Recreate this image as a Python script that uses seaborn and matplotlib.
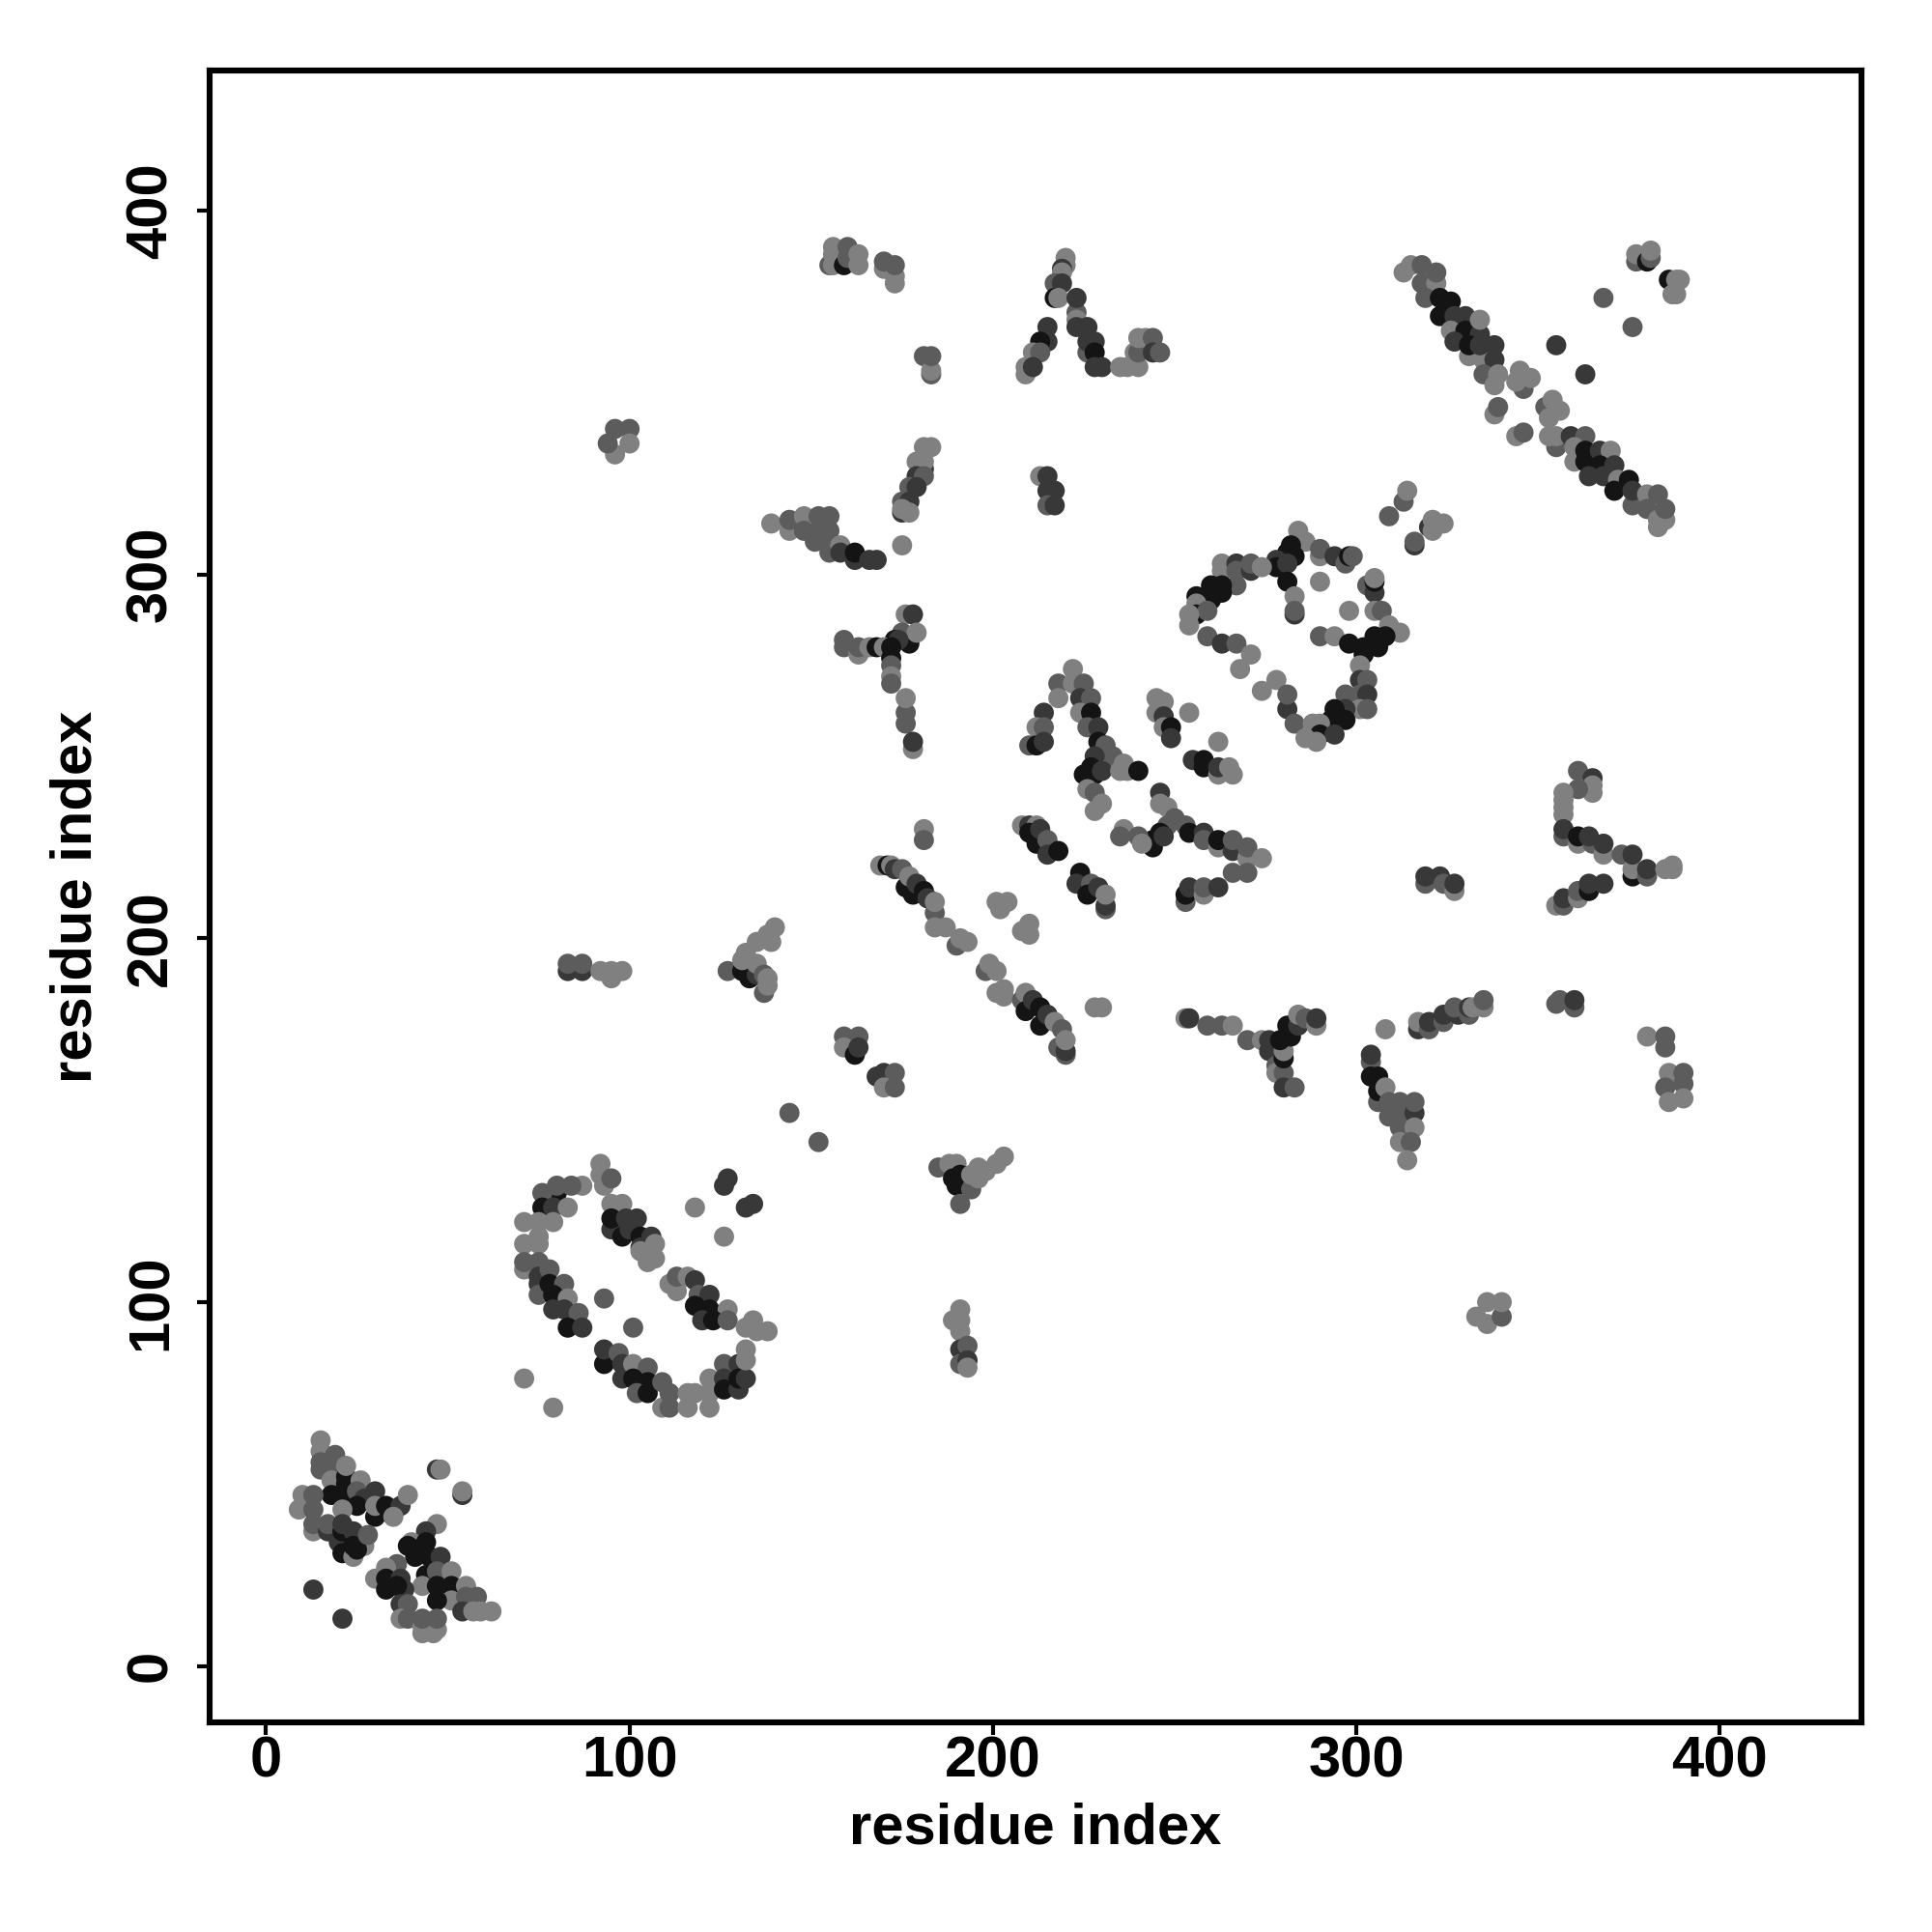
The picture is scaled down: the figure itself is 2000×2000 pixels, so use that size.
import matplotlib
matplotlib.use("Agg")
import matplotlib.pyplot as plt
import pandas as pd
import seaborn as sns

# (residue i, residue j, shade) k=black d=dark m=mid l=light
helix_n = [(15,62,'l'),(15,59,'l'),(15,54,'m'),(15,56,'m'),(19,58,'m'),(19,55,'m'),(18,51,'l'),(22,50,'k'),(22,52,'k'),(22,55,'l'),(26,51,'l'),
 (18,47,'k'),(22,47,'k'),(25,48,'m'),(27,46,'d'),(30,48,'d'),(25,44,'k'),(21,43,'l'),(30,41,'k'),(30,44,'l'),(33,44,'k'),(34,42,'k'),(37,44,'d'),(39,47,'l'),(35,41,'l'),
 (10,47,'l'),(9,43,'l'),(13,47,'m'),(13,43,'m'),(13,37,'l'),(13,39,'m'),(17,37,'d'),(17,39,'m'),(20,34,'d'),(21,31,'k'),(21,37,'k'),(21,39,'d'),(24,37,'d'),
 (24,30,'l'),(27,33,'l'),(24,33,'k'),(25,32,'k'),(28,36,'m'),
 (47,54,'d'),(48,54,'l'),(54,47,'d'),(54,48,'l'),(13,21,'d'),(21,13,'d')]
helix_c = [(47,39,'l'),(44,37,'d'),(40,34,'l'),(39,33,'k'),(44,34,'k'),(41,32,'k'),(41,30,'k'),(45,30,'k'),(48,30,'d'),(36,28,'m'),(33,27,'l'),(30,24,'l'),(33,24,'k'),
 (37,24,'d'),(44,25,'k'),(47,26,'m'),(51,26,'l'),(43,22,'l'),(33,21,'k'),(38,21,'d'),(36,22,'k'),(47,22,'k'),(51,22,'k'),(55,22,'l'),(51,18,'l'),(47,18,'k'),
 (55,19,'m'),(58,19,'m'),(37,17,'d'),(39,17,'m'),(54,15,'d'),(57,15,'l'),(59,15,'l'),(62,15,'l'),(37,13,'l'),(39,13,'m'),(43,9,'l'),(46,9,'l'),(47,10,'l'),(43,11,'l'),(43,13,'m'),(47,13,'m')]
ring_a = [(92,138,'l'),(92,135,'l'),(93,132,'l'),(95,134,'m'),(87,132,'l'),(80,130,'k'),(80,132,'m'),(84,132,'m'),(76,130,'m'),(76,126,'k'),(79,126,'d'),(83,126,'l'),
 (71,122,'l'),(75,122,'l'),(79,122,'l'),(71,116,'l'),(75,116,'l'),(75,118,'l'),(71,109,'l'),(71,111,'m'),(75,111,'m'),(75,107,'d'),(75,105,'d'),(75,102,'m'),(78,109,'m'),
 (78,105,'k'),(82,105,'m'),(79,102,'k'),(83,101,'l'),(79,98,'d'),(82,98,'d'),(86,97,'m'),(83,93,'k'),(87,93,'d'),
 (93,101,'m'),(101,93,'m'),(71,79,'l'),(79,71,'l')]
ring_b = [(95,127,'l'),(98,127,'l'),(95,120,'d'),(95,123,'k'),(99,123,'d'),(102,123,'d'),(98,118,'k'),(100,120,'d'),(103,118,'k'),(103,115,'d'),(106,118,'d'),(103,114,'l'),(105,111,'l'),(107,112,'l'),(107,116,'l'),
 (111,105,'l'),(113,103,'l'),(113,107,'m'),(116,107,'l'),(118,106,'d'),(119,102,'m'),(122,102,'d'),(118,99,'k'),(122,98,'k'),(127,98,'l'),(120,95,'d'),(123,95,'k'),(127,95,'m'),
 (134,95,'l'),(132,93,'l'),(135,92,'l'),(138,92,'l')]
ring_c = [(93,83,'k'),(93,87,'d'),(97,86,'m'),(98,83,'d'),(98,79,'d'),(101,83,'l'),(105,82,'m'),(101,79,'k'),(105,78,'k'),(102,75,'m'),(105,75,'k'),(109,78,'m'),(109,71,'l'),(111,71,'m'),(111,75,'m'),
 (116,71,'l'),(116,75,'l'),(118,75,'l'),(122,71,'l'),(122,75,'l'),(122,79,'l'),(126,83,'m'),(126,79,'d'),(126,76,'k'),(130,76,'d'),(130,83,'d'),(130,79,'k'),(132,79,'d'),(132,84,'l'),(132,87,'l'),
 (126,132,'d'),(127,134,'d'),(132,126,'d'),(134,127,'d'),(118,126,'l'),(126,118,'l')]
strand_mid = [(83,191,'d'),(87,191,'d'),(83,193,'m'),(87,193,'m'),(92,191,'l'),(95,189,'l'),(95,191,'l'),(98,191,'l'),
 (127,191,'m'),(131,191,'k'),(133,189,'k'),(135,190,'d'),(131,194,'l'),(132,196,'l'),(135,193,'l'),(135,199,'l'),(139,199,'l'),(138,201,'l'),(140,203,'l'),(137,185,'m'),(137,190,'m'),(138,187,'l'),(138,189,'l'),
 (159,173,'m'),(163,173,'m'),(159,170,'l'),(162,168,'k'),(163,170,'d'),(168,162,'d'),(170,163,'d'),(173,163,'m'),(170,159,'l'),(173,159,'m'),(144,152,'m'),(152,144,'m'),
 (185,137,'m'),(188,138,'l'),(190,138,'l'),(189,134,'k'),(190,132,'k'),(191,135,'k'),(194,131,'m'),(194,135,'l'),(196,134,'l'),(196,137,'l'),(198,136,'l'),(201,138,'l'),(203,140,'l'),(191,127,'m'),
 (191,98,'l'),(189,95,'l'),(191,95,'l'),(191,92,'l'),(191,87,'d'),(193,88,'m'),(191,83,'m'),(193,84,'d'),(193,82,'l')]
diag_long = [(169,220,'l'),(171,220,'k'),(172,220,'l'),(173,219,'d'),(175,219,'m'),(176,214,'k'),(177,217,'l'),(178,212,'k'),(179,215,'d'),(181,213,'k'),(182,211,'d'),(184,207,'m'),(184,210,'l'),
 (184,203,'l'),(187,203,'l'),(190,198,'m'),(191,200,'l'),(193,199,'l'),(198,191,'m'),(199,193,'l'),(201,191,'l'),(201,185,'l'),(203,186,'l'),(203,184,'l'),
 (208,183,'m'),(209,185,'l'),(209,180,'k'),(211,183,'d'),(213,181,'k'),(213,176,'k'),(215,179,'d'),(217,177,'l'),(219,175,'m'),(218,170,'m'),(220,168,'m'),(220,169,'d'),(220,172,'l'),
 (201,210,'l'),(204,210,'l'),(202,208,'l'),(208,202,'l'),(210,204,'l'),(210,201,'l'),(228,181,'l'),(230,181,'l'),(181,230,'l'),(181,227,'m')]
arm_lambda = [(222,274,'l'),(218,270,'m'),(222,270,'l'),(225,270,'m'),(218,266,'l'),(224,266,'d'),(227,266,'m'),(224,262,'l'),(227,262,'k'),(214,262,'d'),(212,258,'l'),(214,258,'m'),(226,258,'m'),(229,258,'d'),
 (210,253,'m'),(212,253,'k'),(214,254,'d'),(229,254,'k'),(231,253,'m'),(233,250,'m'),(228,250,'d'),(236,248,'l'),(227,247,'k'),(225,245,'k'),(228,245,'k'),(230,246,'d'),(235,246,'l'),(237,246,'l'),(240,246,'k'),
 (226,241,'l'),(228,240,'m'),(228,235,'l'),(230,237,'l'),
 (245,266,'l'),(247,265,'l'),(245,262,'l'),(254,262,'l'),(247,261,'d'),(247,258,'l'),(249,258,'k'),(249,255,'d'),(262,254,'l'),(255,249,'d'),(258,247,'k'),(258,249,'k'),(262,245,'l'),(262,247,'d'),(265,247,'l'),(266,245,'l')]
arm_cross = [(246,240,'d'),(246,237,'l'),(248,236,'l'),(250,233,'m'),(253,231,'m'),(248,231,'m'),(244,225,'k'),(244,227,'k'),(246,229,'k'),(247,228,'d'),(254,229,'k'),(258,229,'d'),(236,230,'l'),(235,228,'m'),(240,228,'m'),(241,226,'l'),
 (258,227,'m'),(262,225,'l'),(262,227,'k'),(266,224,'d'),(266,227,'m'),(270,222,'l'),(270,225,'m'),(274,222,'l'),(266,218,'m'),(270,218,'m'),
 (208,231,'l'),(210,231,'d'),(212,231,'l'),(210,229,'k'),(212,226,'k'),(213,230,'d'),(215,227,'m'),(215,223,'d'),(218,224,'k'),
 (224,218,'k'),(223,215,'d'),(227,215,'m'),(226,212,'k'),(229,214,'d'),(231,208,'m'),(231,209,'d'),(231,212,'l'),
 (253,210,'m'),(253,212,'k'),(254,214,'d'),(258,212,'l'),(258,214,'m'),(262,214,'d')]
ring_top = [(284,312,'l'),(286,309,'l'),(290,305,'l'),(290,307,'m'),(282,308,'k'),(281,306,'k'),(283,305,'k'),(278,304,'d'),(278,302,'k'),(281,303,'d'),(294,305,'d'),(297,303,'m'),(298,305,'k'),(299,305,'m'),
 (281,298,'k'),(283,294,'l'),(283,289,'d'),(283,290,'m'),(290,298,'l'),(298,290,'l'),
 (263,303,'l'),(263,301,'l'),(267,303,'d'),(267,301,'m'),(271,301,'d'),(271,303,'m'),(274,302,'l'),(267,297,'m'),(263,297,'k'),(260,297,'k'),(260,293,'k'),(263,295,'k'),(256,294,'k'),(256,292,'l'),(256,289,'k'),(259,290,'m'),
 (254,289,'l'),(254,286,'l'),(259,283,'m'),(263,281,'d'),(267,281,'m'),(271,278,'l'),(268,274,'l'),(278,271,'l'),(274,268,'l'),(281,263,'d'),(281,267,'m'),(283,259,'m')]
ring_right = [(290,283,'m'),(294,283,'l'),(298,281,'k'),(303,297,'m'),(305,295,'d'),(305,298,'k'),(305,299,'l'),(305,290,'l'),(307,290,'m'),(309,286,'l'),(312,284,'l'),(308,283,'k'),(305,283,'k'),(306,280,'k'),(302,280,'k'),(302,278,'k'),
 (301,275,'l'),(301,271,'d'),(303,271,'m'),(297,267,'m'),(301,267,'m'),(303,267,'d'),(301,263,'l'),(303,263,'m'),(297,263,'d'),(294,263,'k'),(297,260,'k'),(293,260,'k'),(288,259,'l'),(290,259,'l'),(290,256,'k'),(294,256,'d'),(286,255,'l'),(289,254,'l'),
 (309,316,'m'),(313,320,'m'),(314,323,'l'),(316,308,'d'),(316,309,'m'),(320,313,'d'),(321,312,'l'),(321,315,'l'),(324,314,'l')]
cross_top = [(313,383,'l'),(315,385,'l'),(318,385,'m'),(318,380,'m'),(322,380,'l'),(322,383,'m'),(319,376,'m'),(323,376,'k'),(326,375,'k'),(323,371,'k'),(327,371,'d'),(330,371,'d'),(326,367,'l'),(330,367,'k'),(334,366,'d'),(334,370,'l'),
 (327,364,'d'),(331,360,'l'),(331,363,'k'),(335,359,'l'),(334,363,'d'),(338,363,'d'),(338,359,'d'),(335,355,'m'),(338,352,'l'),(339,355,'l'),(346,351,'m'),(344,353,'l'),(345,356,'l'),(348,354,'l'),
 (338,344,'l'),(339,346,'m'),(344,338,'l'),(346,339,'m')]
cross_low = [(352,346,'m'),(353,343,'l'),(354,348,'l'),(356,345,'l'),(355,335,'m'),(353,338,'l'),(355,338,'l'),(359,338,'d'),(363,338,'m'),(360,335,'l'),(360,331,'l'),(363,334,'k'),(363,331,'k'),(367,334,'d'),(370,334,'l'),(367,330,'k'),
 (371,330,'d'),(364,327,'d'),(368,327,'d'),(372,326,'l'),(375,326,'k'),(371,323,'k'),(376,319,'m'),(376,323,'d'),(380,322,'l'),(383,322,'m'),(380,318,'m'),(383,313,'l'),(383,315,'l'),(385,315,'l'),(385,318,'m'),
 (355,363,'d'),(363,355,'d'),(368,376,'m'),(376,368,'m'),(377,386,'m'),(377,388,'l'),(380,386,'k'),(381,387,'m'),(381,389,'l'),(386,381,'k'),(387,377,'l'),(388,377,'l'),(388,381,'l'),(389,381,'l')]
top_left = [(155,385,'m'),(156,385,'l'),(156,388,'l'),(156,390,'l'),(159,385,'k'),(160,387,'m'),(160,390,'m'),(163,385,'l'),(163,388,'l'),(170,384,'l'),(170,386,'m'),(173,380,'l'),(173,382,'l'),(173,385,'m'),
 (181,360,'m'),(183,355,'m'),(183,356,'l'),(183,360,'m'),(181,335,'l'),(183,335,'l'),(179,331,'l'),(181,329,'d'),(181,331,'l'),(179,327,'d'),(181,327,'m'),(177,324,'m'),(179,324,'d'),(175,317,'d'),(175,320,'m'),(177,320,'d'),(175,318,'l'),(177,317,'l'),(175,308,'l'),
 (139,314,'l'),(144,312,'l'),(144,315,'m'),(148,316,'l'),(148,312,'m'),(152,316,'m'),(155,316,'m'),(152,312,'m'),(155,312,'m'),(151,309,'m'),(155,308,'m'),(155,306,'m'),(158,308,'l'),(158,306,'d'),(162,304,'d'),(162,306,'k'),(166,304,'d'),(168,304,'d'),
 (96,333,'l'),(94,336,'m'),(96,340,'m'),(100,340,'m'),(100,336,'l')]
top_mid = [(220,387,'l'),(220,385,'l'),(219,384,'d'),(219,383,'l'),(217,380,'m'),(219,380,'d'),(217,376,'k'),(218,376,'l'),(223,372,'m'),(223,370,'l'),(223,376,'d'),(223,368,'d'),(226,368,'d'),(226,361,'m'),(226,364,'d'),(228,364,'d'),(228,361,'k'),(228,357,'d'),(230,357,'d'),
 (215,364,'d'),(215,368,'d'),(213,364,'k'),(211,361,'l'),(213,361,'m'),(209,355,'l'),(209,357,'l'),(211,357,'d'),
 (235,357,'l'),(237,357,'l'),(240,357,'l'),(239,361,'l'),(240,361,'m'),(240,365,'l'),(242,365,'l'),(244,365,'m'),(244,361,'d'),(246,361,'m'),
 (213,327,'l'),(215,327,'d'),(215,323,'d'),(217,323,'d'),(215,319,'m'),(217,319,'d')]
y_junction = [(176,289,'l'),(178,289,'d'),(175,284,'m'),(177,281,'k'),(179,284,'l'),(173,282,'k'),(174,282,'d'),(159,280,'m'),(159,282,'m'),(163,278,'l'),(163,280,'m'),(166,280,'l'),(168,280,'k'),(170,280,'l'),(172,280,'k'),(172,277,'k'),(172,275,'m'),(172,272,'l'),(172,270,'m'),
 (176,259,'m'),(176,262,'m'),(176,266,'l'),(178,252,'l'),(178,254,'d')]
low_right = [(253,178,'l'),(254,178,'d'),(259,176,'m'),(263,176,'m'),(266,176,'l'),(270,172,'m'),(274,172,'l'),(276,172,'d'),(276,169,'d'),(278,165,'m'),(278,163,'l'),(280,163,'m'),(280,159,'d'),(283,159,'m'),(280,167,'k'),(280,169,'l'),(279,172,'k'),(282,173,'k'),(281,176,'k'),(284,176,'d'),(284,179,'l'),(286,178,'m'),(289,176,'l'),(289,178,'d'),
 (308,175,'l'),(304,166,'m'),(304,168,'d'),(304,162,'k'),(306,162,'k'),(306,155,'m'),(306,158,'k'),(308,159,'l'),(309,155,'m'),(309,151,'m'),(312,155,'m'),(312,151,'m'),(316,152,'d'),(316,155,'m'),(312,148,'m'),(316,148,'l'),(312,144,'l'),(315,144,'m'),(314,139,'l'),
 (317,175,'d'),(317,177,'l'),(320,175,'m'),(320,177,'d'),(324,177,'m'),(324,179,'d'),(328,179,'d'),(327,181,'m'),(331,179,'m'),(331,181,'d'),(332,181,'l'),(335,181,'l'),(335,183,'m'),
 (355,182,'m'),(356,183,'m'),(360,181,'m'),(360,183,'d'),
 (380,173,'l'),(385,173,'m'),(385,170,'m'),(386,163,'l'),(390,163,'m'),(385,159,'m'),(390,160,'m'),(386,155,'l'),(390,156,'l'),
 (333,96,'l'),(336,94,'l'),(336,100,'l'),(340,96,'m'),(340,100,'l')]
right_arm = [(361,246,'m'),(365,244,'d'),(365,242,'l'),(365,240,'l'),(361,241,'m'),(357,240,'l'),(357,238,'l'),(357,236,'l'),(357,234,'l'),(357,228,'m'),(357,230,'d'),(361,226,'l'),(361,228,'k'),(365,226,'m'),(364,228,'d'),(368,223,'l'),(368,226,'d'),(373,223,'m'),(376,217,'k'),(376,219,'l'),(376,223,'d'),
 (380,217,'m'),(380,219,'d'),(385,219,'l'),(387,219,'l'),(387,220,'l'),
 (319,215,'m'),(319,217,'d'),(323,217,'d'),(324,215,'m'),(327,213,'l'),(327,215,'d'),
 (355,209,'l'),(357,209,'m'),(357,211,'d'),(361,211,'l'),(361,213,'m'),(364,213,'k'),(364,215,'d'),(368,215,'d')]

shades = {'k': '#141414', 'd': '#383838', 'm': '#5c5c5c', 'l': '#808080'}
ticks = [0, 100, 200, 300, 400]
axis_label = 'residue index'

clusters = [helix_n, helix_c, ring_a, ring_b, ring_c, strand_mid, diag_long, arm_lambda, arm_cross,
            ring_top, ring_right, cross_top, cross_low, top_left, top_mid, y_junction, low_right, right_arm]
df = pd.DataFrame([p for c in clusters for p in c], columns=['i', 'j', 'shade'])

sns.set_theme(style='white')
plt.rcParams['font.family'] = ['Liberation Sans', 'DejaVu Sans']
plt.rcParams['font.weight'] = 'bold'

fig = plt.figure(figsize=(20, 20), dpi=100)
ax = fig.add_axes([217/2000, 1-1783/2000, 1710/2000, 1710/2000])
sns.scatterplot(data=df, x='i', y='j', hue='shade', palette=shades, s=225, linewidth=0,
                legend=False, ax=ax, clip_on=True)
ax.set_xlim(-15.55, 439)
ax.set_ylim(-15.5, 438.5)
ax.set_xticks(ticks)
ax.set_yticks(ticks)
ax.tick_params(axis='x', length=9.5, width=3, color='black', labelsize=43, pad=0, labelcolor='black')
ax.tick_params(axis='y', length=9.5, width=3, color='black', labelsize=43, pad=14, labelcolor='black')
ax.tick_params(left=True, bottom=True)
for t in ax.get_yticklabels():
    t.set_rotation(90)
    t.set_va('center')
    t.set_fontweight('bold')
for t in ax.get_xticklabels():
    t.set_fontweight('bold')
ax.set_xlabel(axis_label, fontsize=43, fontweight='bold', color='black')
ax.set_ylabel(axis_label, fontsize=43, fontweight='bold', color='black')
ax.xaxis.set_label_coords(0.5, -(1893-1783)/1710, transform=ax.transAxes)
ax.yaxis.set_label_coords(-(217-79)/1710, 0.5, transform=ax.transAxes)
ax.xaxis.label.set_va('center')
ax.yaxis.label.set_va('center')
for s in ax.spines.values():
    s.set_visible(True)
    s.set_linewidth(4.4)
    s.set_color('black')
ax.grid(False)
fig.savefig('out.png', dpi=100, facecolor='white')
